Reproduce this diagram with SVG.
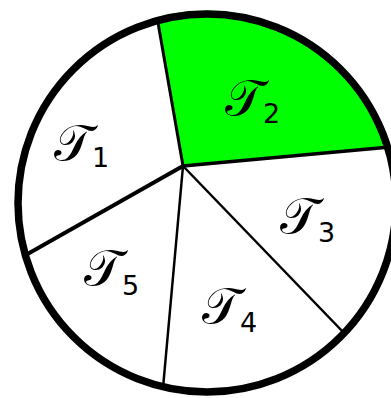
<svg xmlns="http://www.w3.org/2000/svg" width="391" height="398" viewBox="0 0 391 398">
<style>
.sp{stroke:#000;fill:none;stroke-linecap:butt}
.t{font-family:"DejaVu Sans","Liberation Serif",serif;font-size:50px;fill:#000}
.s{font-family:"DejaVu Sans",sans-serif;font-size:27px}
</style>
<rect width="391" height="398" fill="#fff"/>
<g id="sector-T2">
<path d="M183,166 L157,17 A189,189 0 0 1 388,147 Z" fill="#00ff00"/>
</g>
<g id="connectors">
<line class="sp" x1="183" y1="166" x2="157" y2="17" stroke-width="3"/>
<line class="sp" x1="183" y1="166" x2="390" y2="147" stroke-width="3.5"/>
<line class="sp" x1="183" y1="166" x2="345" y2="334" stroke-width="2.5"/>
<line class="sp" x1="183" y1="166" x2="163" y2="388" stroke-width="2.5"/>
<line class="sp" x1="183" y1="166" x2="24" y2="256" stroke-width="4"/>
</g>
<g id="circle">
<circle cx="207" cy="203" r="189" fill="none" stroke="#000" stroke-width="7.5"/>
</g>
<g id="T1"><text x="54" y="160" class="t">𝒯<tspan class="s" dx="0" dy="7">1</tspan></text></g>
<g id="T2"><text x="225" y="115" class="t">𝒯<tspan class="s" dx="0" dy="8">2</tspan></text></g>
<g id="T3"><text x="280" y="233" class="t">𝒯<tspan class="s" dx="0" dy="9">3</tspan></text></g>
<g id="T4"><text x="202" y="323" class="t">𝒯<tspan class="s" dx="0" dy="9">4</tspan></text></g>
<g id="T5"><text x="84" y="285" class="t">𝒯<tspan class="s" dx="0" dy="10">5</tspan></text></g>
</svg>
